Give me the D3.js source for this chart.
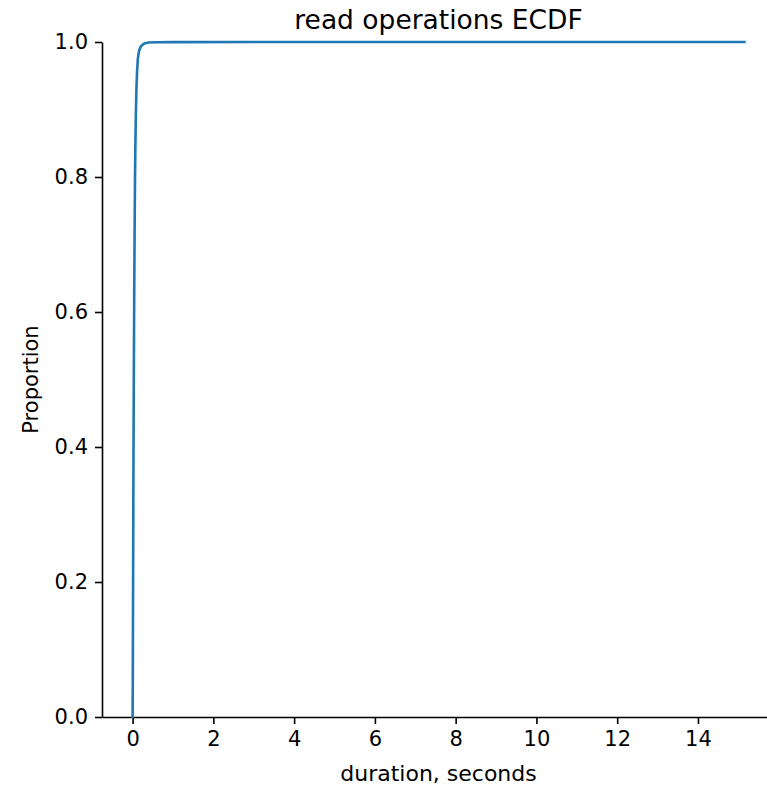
<!DOCTYPE html>
<html>
<head>
<meta charset="utf-8">
<script src="https://cdn.jsdelivr.net/npm/d3@7"></script>
<style>
  body { margin: 0; background: #fff; }
  text { font-family: "DejaVu Sans", sans-serif; fill: #000; }
  .tick text { font-size: 21px; }
  .tick line, .domain { stroke: #000; stroke-width: 1.6px; }
</style>
</head>
<body>
<div id="chart"></div>
<script>
// ECDF points (duration in seconds, cumulative proportion)
var durations = [0.000, 0.005, 0.010, 0.020, 0.030, 0.040, 0.050, 0.060, 0.070, 0.080,
                 0.095, 0.110, 0.130, 0.160, 0.200, 0.250, 0.300, 0.400, 0.600, 1.000,
                 3.000, 15.15];
var proportions = [0.000, 0.050, 0.150, 0.350, 0.500, 0.620, 0.720, 0.800, 0.850, 0.890,
                   0.930, 0.955, 0.975, 0.987, 0.993, 0.996, 0.998, 0.9993, 0.9997, 0.9998,
                   0.9999, 1.000];
var xTicks = [0, 2, 4, 6, 8, 10, 12, 14];
var yTicks = [0.0, 0.2, 0.4, 0.6, 0.8, 1.0];

var svgWidth = 767;
var svgHeight = 790;

var margin = { top: 42, left: 102, bottom: 73 };
var plotRight = 775; // axes run past the right edge of the picture

var svg = d3.select("#chart")
    .append("svg")
    .attr("width", svgWidth)
    .attr("height", svgHeight);

var data = durations.map(function(d, i) {
    return { x: d, y: proportions[i] };
});

// scales (matplotlib-style 5% margin on x, none on y)
var xMax = d3.max(durations);
var xPad = xMax * 0.05;
var xScale = d3.scaleLinear()
    .domain([-xPad, xMax + xPad])
    .range([margin.left, plotRight]);

var yScale = d3.scaleLinear()
    .domain([0, 1])
    .range([svgHeight - margin.bottom, margin.top]);

// axes
svg.append("g")
    .attr("transform", `translate(0, ${svgHeight - margin.bottom})`)
    .call(d3.axisBottom(xScale).tickValues(xTicks).tickFormat(d3.format("d"))
        .tickSize(7).tickSizeOuter(0).tickPadding(7));

svg.append("g")
    .attr("transform", `translate(${margin.left}, 0)`)
    .call(d3.axisLeft(yScale).tickValues(yTicks).tickFormat(d3.format(".1f"))
        .tickSize(7).tickSizeOuter(0).tickPadding(7));

// ecdf line
var line = d3.line()
    .x(d => xScale(d.x))
    .y(d => yScale(d.y));

svg.append("path")
    .datum(data)
    .attr("d", line)
    .attr("fill", "none")
    .attr("stroke", "#1f77b4")
    .attr("stroke-width", 2.6)
    .attr("stroke-linejoin", "round")
    .attr("stroke-linecap", "square");

// labels
svg.append("text")
    .attr("x", (margin.left + plotRight) / 2)
    .attr("y", 29)
    .attr("text-anchor", "middle")
    .attr("font-size", 26.5)
    .text("read operations ECDF");

svg.append("text")
    .attr("x", (margin.left + plotRight) / 2)
    .attr("y", 781)
    .attr("text-anchor", "middle")
    .attr("font-size", 22)
    .text("duration, seconds");

svg.append("text")
    .attr("transform", `translate(38, ${yScale(0.5)}) rotate(-90)`)
    .attr("text-anchor", "middle")
    .attr("font-size", 21)
    .text("Proportion");
</script>
</body>
</html>
